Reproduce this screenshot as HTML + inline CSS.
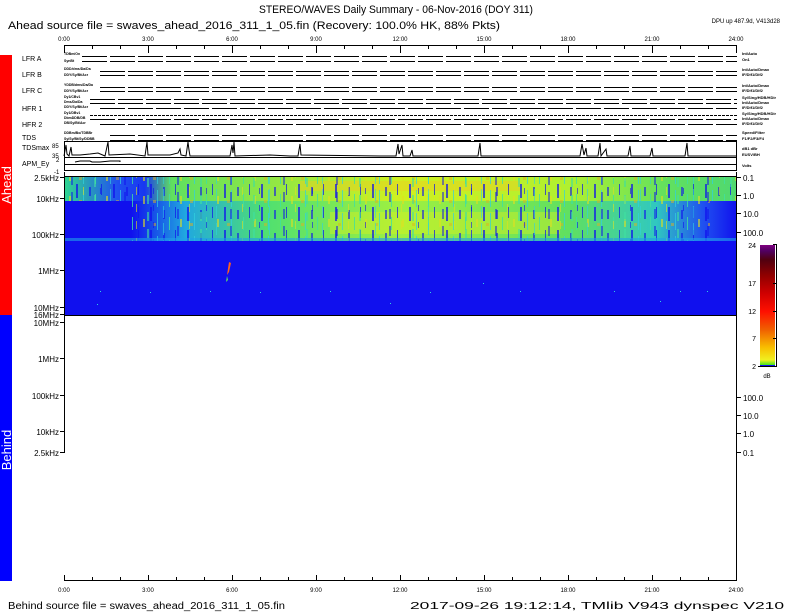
<!DOCTYPE html>
<html><head><meta charset="utf-8"><style>
html,body{margin:0;padding:0;background:#fff}
svg{display:block;font-family:"Liberation Sans",sans-serif}
</style></head><body>
<svg width="792" height="612" viewBox="0 0 792 612" xmlns="http://www.w3.org/2000/svg">
<defs>
<linearGradient id="top" x1="0" x2="1" y1="0" y2="0">
<stop offset="0" stop-color="#30d890"/><stop offset="0.08" stop-color="#2050f0"/><stop offset="0.12" stop-color="#1838f0"/><stop offset="0.16" stop-color="#60e060"/><stop offset="0.5" stop-color="#d0f020"/><stop offset="0.75" stop-color="#b0f030"/><stop offset="0.9" stop-color="#60e060"/><stop offset="1" stop-color="#50d870"/>
</linearGradient>
<linearGradient id="mid" x1="0" x2="1" y1="0" y2="0">
<stop offset="0" stop-color="#1010ee"/><stop offset="0.1" stop-color="#1010ee"/><stop offset="0.18" stop-color="#20a8e0"/><stop offset="0.3" stop-color="#50e070"/><stop offset="0.5" stop-color="#a0f040"/><stop offset="0.75" stop-color="#60e060"/><stop offset="0.88" stop-color="#30c8c0"/><stop offset="0.95" stop-color="#2050f0"/><stop offset="1" stop-color="#1010ee"/>
</linearGradient>
<pattern id="noise" width="37" height="23" patternUnits="userSpaceOnUse">
<rect x="2" y="0" width="2" height="14" fill="#1010ee" opacity=".7"/>
<rect x="9" y="6" width="1" height="17" fill="#30d0e0" opacity=".7"/>
<rect x="15" y="3" width="2" height="9" fill="#1010ee" opacity=".6"/>
<rect x="21" y="10" width="1" height="13" fill="#40e0a0" opacity=".8"/>
<rect x="27" y="0" width="1" height="11" fill="#1010ee" opacity=".7"/>
<rect x="32" y="12" width="2" height="8" fill="#e0e020" opacity=".6"/>
<rect x="5" y="16" width="3" height="3" fill="#e0b020" opacity=".5"/>
</pattern>
<pattern id="noise2" width="53" height="17" patternUnits="userSpaceOnUse">
<rect x="4" y="2" width="1" height="12" fill="#30d0e0" opacity=".6"/>
<rect x="18" y="5" width="2" height="10" fill="#1010ee" opacity=".5"/>
<rect x="30" y="0" width="1" height="8" fill="#e0e020" opacity=".6"/>
<rect x="41" y="8" width="2" height="9" fill="#40e0a0" opacity=".6"/>
<rect x="47" y="1" width="1" height="6" fill="#1010ee" opacity=".6"/>
</pattern>
</defs>

<!-- side bars -->
<rect x="0" y="55" width="12" height="260" fill="#ff0000"/>
<rect x="0" y="315" width="12" height="266" fill="#0000ff"/>
<text transform="translate(11,185) rotate(-90)" font-size="13" fill="#fff" text-anchor="middle">Ahead</text>
<text transform="translate(11,450) rotate(-90)" font-size="13" fill="#fff" text-anchor="middle">Behind</text>

<!-- titles -->
<text x="259" y="13" font-size="11" textLength="274" lengthAdjust="spacingAndGlyphs">STEREO/WAVES Daily Summary - 06-Nov-2016 (DOY 311)</text>
<text x="8" y="29" font-size="11" textLength="492" lengthAdjust="spacingAndGlyphs">Ahead source file = swaves_ahead_2016_311_1_05.fin (Recovery: 100.0% HK, 88% Pkts)</text>
<text x="780" y="23" font-size="6" text-anchor="end">DPU up 487.9d, V413d28</text>

<!-- top axis -->
<g stroke="#000" stroke-width="1">
<line x1="64" y1="45.5" x2="737" y2="45.5"/>
<line x1="64.5" y1="45" x2="64.5" y2="53"/><line x1="92.5" y1="45" x2="92.5" y2="49"/><line x1="120.5" y1="45" x2="120.5" y2="49"/><line x1="148.5" y1="45" x2="148.5" y2="53"/><line x1="176.5" y1="45" x2="176.5" y2="49"/><line x1="204.5" y1="45" x2="204.5" y2="49"/><line x1="232.5" y1="45" x2="232.5" y2="53"/><line x1="260.5" y1="45" x2="260.5" y2="49"/><line x1="288.5" y1="45" x2="288.5" y2="49"/><line x1="316.5" y1="45" x2="316.5" y2="53"/><line x1="344.5" y1="45" x2="344.5" y2="49"/><line x1="372.5" y1="45" x2="372.5" y2="49"/><line x1="400.5" y1="45" x2="400.5" y2="53"/><line x1="428.5" y1="45" x2="428.5" y2="49"/><line x1="456.5" y1="45" x2="456.5" y2="49"/><line x1="484.5" y1="45" x2="484.5" y2="53"/><line x1="512.5" y1="45" x2="512.5" y2="49"/><line x1="540.5" y1="45" x2="540.5" y2="49"/><line x1="568.5" y1="45" x2="568.5" y2="53"/><line x1="596.5" y1="45" x2="596.5" y2="49"/><line x1="624.5" y1="45" x2="624.5" y2="49"/><line x1="652.5" y1="45" x2="652.5" y2="53"/><line x1="680.5" y1="45" x2="680.5" y2="49"/><line x1="708.5" y1="45" x2="708.5" y2="49"/><line x1="736.5" y1="45" x2="736.5" y2="53"/>
</g>
<g font-size="6" text-anchor="middle">
<text x="64" y="41">0:00</text><text x="148" y="41">3:00</text><text x="232" y="41">6:00</text><text x="316" y="41">9:00</text><text x="400" y="41">12:00</text><text x="484" y="41">15:00</text><text x="568" y="41">18:00</text><text x="652" y="41">21:00</text><text x="736" y="41">24:00</text>
</g>

<!-- status rows -->
<g font-size="7">
<text x="22" y="61">LFR A</text><text x="22" y="77">LFR B</text><text x="22" y="93">LFR C</text><text x="22" y="111">HFR 1</text><text x="22" y="127">HFR 2</text><text x="22" y="140">TDS</text><text x="22" y="150">TDSmax</text><text x="22" y="166">APM_Ey</text>
</g>
<g stroke="#000" stroke-width="1" stroke-dasharray="25 3" fill="none">
<line x1="82" y1="56.5" x2="737" y2="56.5"/><line x1="82" y1="61.5" x2="737" y2="61.5"/>
<line x1="100" y1="71.5" x2="737" y2="71.5"/><line x1="100" y1="75.5" x2="737" y2="75.5"/>
<line x1="100" y1="87.5" x2="737" y2="87.5"/><line x1="100" y1="91.5" x2="737" y2="91.5"/>
<line x1="90" y1="99.5" x2="737" y2="99.5"/><line x1="90" y1="103.5" x2="737" y2="103.5"/><line x1="100" y1="108.5" x2="737" y2="108.5"/>
<line x1="90" y1="115.5" x2="737" y2="115.5" stroke-dasharray="3 1"/>
<line x1="90" y1="119.5" x2="737" y2="119.5"/><line x1="100" y1="124.5" x2="737" y2="124.5"/>
<line x1="110" y1="135.5" x2="737" y2="135.5"/><line x1="110" y1="140.5" x2="737" y2="140.5"/>
</g>
<g font-size="3.5" font-weight="bold">
<text x="64" y="55">TDBm/On</text><text x="64" y="62">SynBt</text>
<text x="64" y="70">DDD/dms/Da/Da</text><text x="64" y="76">DDY/Sy/Bt/Acr</text>
<text x="64" y="86">YDDB/dms/Da/Da</text><text x="64" y="92">DDY/Sy/Bt/Acr</text>
<text x="64" y="98">Dy1/CBv1</text><text x="64" y="103">Dms/Da/Da</text><text x="64" y="108">DDY/Sy/Bt/Acr</text><text x="64" y="114">Dy1/DBv1</text><text x="64" y="119">DbmDDB/DB</text><text x="64" y="124">DB/Sy/Bt/Acr</text>
<text x="64" y="134">DDBm/Bo/TDBBr</text><text x="64" y="140">Sy/Sy/Bt/Sy/DDBB</text>
</g>
<g font-size="4" font-weight="bold">
<text x="742" y="55">Int/Auto</text><text x="742" y="61">On1</text>
<text x="742" y="71">Int/Auto/Dmax</text><text x="742" y="76">IF/Dif1/Dif2</text>
<text x="742" y="87">Int/Auto/Dmax</text><text x="742" y="92">IF/Dif1/Dif2</text>
<text x="742" y="99">Sy/Sing/HDB/HDir</text><text x="742" y="104">Int/Auto/Dmax</text><text x="742" y="109">IF/Dif1/Dif2</text><text x="742" y="115">Sy/Sing/HDB/HDir</text><text x="742" y="120">Int/Auto/Dmax</text><text x="742" y="125">IF/Dif1/Dif2</text>
<text x="742" y="134">Speed/Filter</text><text x="742" y="140">F1/F2/F3/F4</text>
<text x="742" y="150">dB1 dBr</text><text x="742" y="156">EUSV/BH</text><text x="742" y="167">Volts</text>
</g>

<!-- TDSmax box -->
<rect x="64.5" y="141.5" width="672" height="16" fill="none" stroke="#000"/>
<g font-size="6"><text x="52" y="148">85</text><text x="52" y="158">35</text><text x="56" y="162">2</text><text x="54" y="174">-1</text></g>
<polyline fill="none" stroke="#000" stroke-width="1" points="64,156 66,145 67,154 69,156 71,147 72,155 80,155 90,154 98,153 105,156 108,142 109,155 130,154 145,156 147,142 148,155 170,155 178,153 180,149 181,155 186,156 188,142 189,150 190,156 230,156 232,145 233,153 234,142 235,156 270,155 290,156 298,156 300,144 301,155 380,156 396,156 398,144 399,154 402,145 403,156 410,156 412,150 413,156 478,156 480,143 481,156 580,156 582,144 584,155 586,148 587,156 598,156 600,143 601,156 606,149 607,156 628,156 630,146 631,156 650,156 652,148 653,156 685,156 687,143 688,156 737,156"/>
<!-- APM box -->
<rect x="64.5" y="157.5" width="672" height="13" fill="none" stroke="#000"/>
<line x1="64" y1="164.5" x2="737" y2="164.5" stroke="#000"/>
<polyline fill="none" stroke="#000" points="75,162 80,161 90,161 92,162 100,162 110,161 120,161 120,162"/>

<!-- ahead spectrogram -->
<rect x="64" y="177" width="673" height="138" fill="#1010ee"/>
<rect x="64" y="177" width="673" height="24" fill="url(#top)"/>
<rect x="300" y="181" width="220" height="10" fill="#e8d020" opacity=".5"/>
<rect x="64" y="177" width="673" height="24" fill="url(#noise)"/>
<rect x="64" y="177" width="673" height="24" fill="url(#noise2)"/>
<rect x="64" y="201" width="673" height="40" fill="url(#mid)"/>
<rect x="330" y="212" width="230" height="22" fill="#d8f020" opacity=".45"/>
<rect x="130" y="201" width="580" height="40" fill="url(#noise)"/>
<rect x="130" y="201" width="580" height="40" fill="url(#noise2)"/>
<rect x="64" y="238" width="673" height="3" fill="#20a0e8" opacity=".6"/>
<path d="M227,275 L229,262 L231,263 L229,272 Z" fill="#ff6020"/>
<path d="M227,276 L226,282 L228,280 Z" fill="#60e060"/>
<g fill="#30d0e0">
<rect x="100" y="291" width="1" height="1"/><rect x="150" y="292" width="1" height="1"/><rect x="210" y="291" width="1" height="1"/><rect x="260" y="292" width="1" height="1"/><rect x="330" y="291" width="1" height="1"/><rect x="430" y="292" width="1" height="1"/><rect x="520" y="291" width="1" height="1"/><rect x="614" y="291" width="1" height="1"/><rect x="680" y="291" width="1" height="1"/><rect x="707" y="291" width="1" height="1"/><rect x="660" y="301" width="1" height="1"/><rect x="97" y="304" width="1" height="1"/><rect x="483" y="283" width="1" height="1"/><rect x="390" y="303" width="1" height="1"/>
</g>
<line x1="64" y1="315.5" x2="737" y2="315.5" stroke="#000"/>
<line x1="64" y1="176.5" x2="737" y2="176.5" stroke="#000"/>

<!-- left axis -->
<line x1="64.5" y1="172" x2="64.5" y2="453" stroke="#000"/>
<line x1="736.5" y1="172" x2="736.5" y2="580" stroke="#000"/>
<g stroke="#000">
<line x1="60" y1="177.5" x2="64" y2="177.5"/><line x1="60" y1="198.5" x2="64" y2="198.5"/><line x1="60" y1="234.5" x2="64" y2="234.5"/><line x1="60" y1="270.5" x2="64" y2="270.5"/><line x1="60" y1="307.5" x2="64" y2="307.5"/><line x1="60" y1="314.5" x2="64" y2="314.5"/>
<line x1="60" y1="322.5" x2="64" y2="322.5"/><line x1="60" y1="358.5" x2="64" y2="358.5"/><line x1="60" y1="395.5" x2="64" y2="395.5"/><line x1="60" y1="431.5" x2="64" y2="431.5"/><line x1="60" y1="452.5" x2="64" y2="452.5"/>
<line x1="737" y1="177.5" x2="741" y2="177.5"/><line x1="737" y1="195.5" x2="741" y2="195.5"/><line x1="737" y1="213.5" x2="741" y2="213.5"/><line x1="737" y1="232.5" x2="741" y2="232.5"/>
<line x1="737" y1="397.5" x2="741" y2="397.5"/><line x1="737" y1="415.5" x2="741" y2="415.5"/><line x1="737" y1="433.5" x2="741" y2="433.5"/><line x1="737" y1="452.5" x2="741" y2="452.5"/>
</g>
<g font-size="8" text-anchor="end">
<text x="59" y="181">2.5kHz</text><text x="59" y="202">10kHz</text><text x="59" y="238">100kHz</text><text x="59" y="274">1MHz</text><text x="59" y="311">10MHz</text><text x="59" y="318">16MHz</text>
<text x="59" y="326">10MHz</text><text x="59" y="362">1MHz</text><text x="59" y="399">100kHz</text><text x="59" y="435">10kHz</text><text x="59" y="456">2.5kHz</text>
</g>
<g font-size="8">
<text x="743" y="181">0.1</text><text x="743" y="199">1.0</text><text x="743" y="217">10.0</text><text x="743" y="236">100.0</text>
<text x="743" y="401">100.0</text><text x="743" y="419">10.0</text><text x="743" y="437">1.0</text><text x="743" y="456">0.1</text>
</g>

<!-- colorbar -->
<defs><linearGradient id="cb" x1="0" x2="0" y1="1" y2="0">
<stop offset="0" stop-color="#20e020"/><stop offset="0.05" stop-color="#f0f020"/><stop offset="0.15" stop-color="#f8c000"/><stop offset="0.3" stop-color="#f06000"/><stop offset="0.45" stop-color="#ff1000"/><stop offset="0.6" stop-color="#d00000"/><stop offset="0.75" stop-color="#900000"/><stop offset="0.88" stop-color="#500010"/><stop offset="0.95" stop-color="#500060"/><stop offset="1" stop-color="#800080"/>
</linearGradient></defs>
<rect x="760" y="245" width="15" height="121" fill="url(#cb)"/>
<rect x="760" y="365" width="15" height="2" fill="#1010ee"/>
<g stroke="#000"><line x1="776.5" y1="244" x2="776.5" y2="367"/><line x1="773" y1="244.5" x2="777" y2="244.5"/><line x1="773" y1="283.5" x2="777" y2="283.5"/><line x1="773" y1="311.5" x2="777" y2="311.5"/><line x1="773" y1="338.5" x2="777" y2="338.5"/><line x1="758" y1="366.5" x2="777" y2="366.5"/></g>
<g font-size="7" text-anchor="end"><text x="756" y="248">24</text><text x="756" y="286">17</text><text x="756" y="314">12</text><text x="756" y="341">7</text><text x="756" y="369">2</text></g>
<text x="767" y="378" font-size="6" text-anchor="middle">dB</text>

<!-- bottom axis -->
<g stroke="#000">
<line x1="64" y1="580.5" x2="737" y2="580.5"/>
<line x1="64.5" y1="575" x2="64.5" y2="581"/><line x1="92.5" y1="577" x2="92.5" y2="581"/><line x1="120.5" y1="577" x2="120.5" y2="581"/><line x1="148.5" y1="575" x2="148.5" y2="581"/><line x1="176.5" y1="577" x2="176.5" y2="581"/><line x1="204.5" y1="577" x2="204.5" y2="581"/><line x1="232.5" y1="575" x2="232.5" y2="581"/><line x1="260.5" y1="577" x2="260.5" y2="581"/><line x1="288.5" y1="577" x2="288.5" y2="581"/><line x1="316.5" y1="575" x2="316.5" y2="581"/><line x1="344.5" y1="577" x2="344.5" y2="581"/><line x1="372.5" y1="577" x2="372.5" y2="581"/><line x1="400.5" y1="575" x2="400.5" y2="581"/><line x1="428.5" y1="577" x2="428.5" y2="581"/><line x1="456.5" y1="577" x2="456.5" y2="581"/><line x1="484.5" y1="575" x2="484.5" y2="581"/><line x1="512.5" y1="577" x2="512.5" y2="581"/><line x1="540.5" y1="577" x2="540.5" y2="581"/><line x1="568.5" y1="575" x2="568.5" y2="581"/><line x1="596.5" y1="577" x2="596.5" y2="581"/><line x1="624.5" y1="577" x2="624.5" y2="581"/><line x1="652.5" y1="575" x2="652.5" y2="581"/><line x1="680.5" y1="577" x2="680.5" y2="581"/><line x1="708.5" y1="577" x2="708.5" y2="581"/>
</g>
<g font-size="6" text-anchor="middle">
<text x="64" y="592">0:00</text><text x="148" y="592">3:00</text><text x="232" y="592">6:00</text><text x="316" y="592">9:00</text><text x="400" y="592">12:00</text><text x="484" y="592">15:00</text><text x="568" y="592">18:00</text><text x="652" y="592">21:00</text><text x="736" y="592">24:00</text>
</g>
<text x="8" y="609" font-size="10" textLength="277" lengthAdjust="spacingAndGlyphs">Behind source file = swaves_ahead_2016_311_1_05.fin</text>
<text x="410" y="609" font-size="10" textLength="374" lengthAdjust="spacingAndGlyphs">2017-09-26 19:12:14, TMlib V943 dynspec V210</text>
</svg>
</body></html>
